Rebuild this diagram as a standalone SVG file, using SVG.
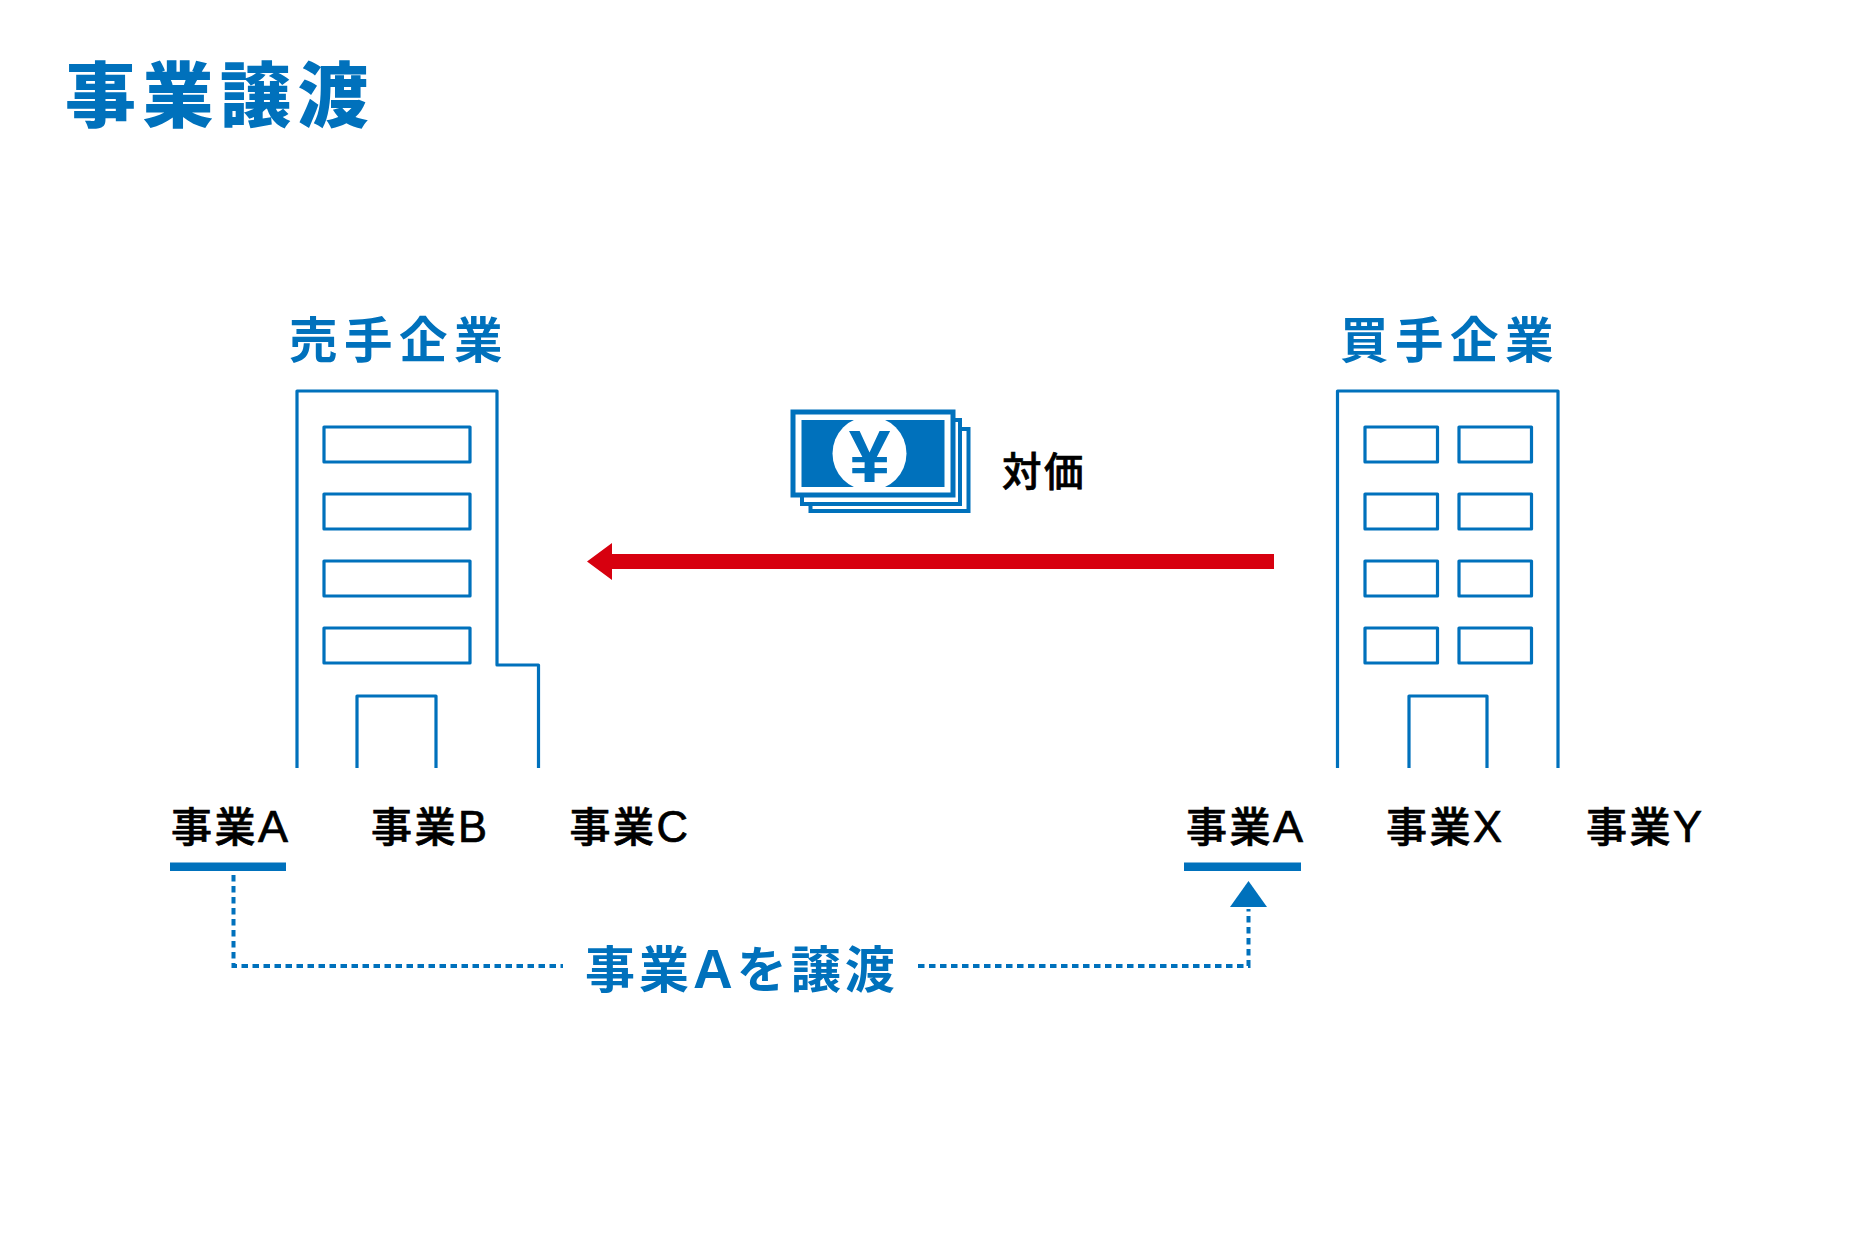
<svg xmlns="http://www.w3.org/2000/svg" width="1876" height="1251" viewBox="0 0 1876 1251">
<style>
text{font-family:"Liberation Sans","Noto Sans CJK JP",sans-serif}
.b{fill:#0071bc;font-weight:700}
.k{fill:#000;stroke:#000;stroke-width:.7px;font-size:41px;font-weight:500;letter-spacing:2.5px}
.l{font-size:45px;letter-spacing:0}
.m{font-size:43.500px;letter-spacing:0}
.h{font-size:48.500px;letter-spacing:6.500px}
.o{fill:none;stroke:#0071bc;stroke-width:3.2;stroke-linejoin:round}
.d{fill:none;stroke:#0071bc;stroke-width:4;stroke-dasharray:6.500 4.500}
.f{fill:#0071bc}
</style>
<rect width="1876" height="1251" fill="#fff"/>
<text id="title" class="b" x="65" y="121" font-size="71" letter-spacing="6.500" style="font-weight:900">事業譲渡</text>
<g id="seller">
<text class="b h" x="289" y="358">売手企業</text>
<path class="o" d="M297 768V391H497V665H538.500V768"/>
<rect class="o" x="324" y="427" width="146" height="35"/>
<rect class="o" x="324" y="494" width="146" height="35"/>
<rect class="o" x="324" y="561" width="146" height="35"/>
<rect class="o" x="324" y="628" width="146" height="35"/>
<path class="o" d="M357 768V696H436V768"/>
</g>
<g id="buyer">
<text class="b h" x="1340" y="358">買手企業</text>
<path class="o" d="M1337.500 768V391H1558V768"/>
<rect class="o" x="1365" y="427" width="72.500" height="35"/>
<rect class="o" x="1459" y="427" width="72.500" height="35"/>
<rect class="o" x="1365" y="494" width="72.500" height="35"/>
<rect class="o" x="1459" y="494" width="72.500" height="35"/>
<rect class="o" x="1365" y="561" width="72.500" height="35"/>
<rect class="o" x="1459" y="561" width="72.500" height="35"/>
<rect class="o" x="1365" y="628" width="72.500" height="35"/>
<rect class="o" x="1459" y="628" width="72.500" height="35"/>
<path class="o" d="M1409 768V696H1487V768"/>
</g>
<g id="money">
<rect x="810.500" y="429" width="158" height="82" fill="#fff" stroke="#0071bc" stroke-width="4"/>
<rect x="802" y="420" width="158" height="84" fill="#fff" stroke="#0071bc" stroke-width="4"/>
<rect x="793" y="412" width="160" height="83" fill="#fff" stroke="#0071bc" stroke-width="5"/>
<rect class="f" x="801.500" y="420" width="143" height="67"/>
<circle cx="869.500" cy="453.500" r="37" fill="#fff"/>
<text class="b" x="869.500" y="481.500" font-size="75" text-anchor="middle">¥</text>
<text class="k" x="1002" y="486" style="font-size:39.500px">対価</text>
</g>
<g id="labels">
<text class="k" x="171" y="842">事業<tspan class="l">A</tspan></text>
<text class="k" x="371" y="842">事業<tspan class="m">B</tspan></text>
<text class="k" x="569.500" y="842">事業<tspan class="m">C</tspan></text>
<text class="k" x="1186" y="842">事業<tspan class="l">A</tspan></text>
<text class="k" x="1386" y="842">事業<tspan class="m">X</tspan></text>
<text class="k" x="1586" y="842">事業<tspan class="m">Y</tspan></text>
<text class="b" x="585" y="988" font-size="50" letter-spacing="4">事業<tspan font-size="55">A</tspan>を譲渡</text>
</g>
<g id="connectors">
<path d="M1274 554V569H612V580L587 561.500L612 543V554Z" fill="#d7000f"/>
<rect class="f" x="170" y="862.500" width="116" height="8.500"/>
<rect class="f" x="1184" y="862.500" width="117" height="8.500"/>
<path class="d" d="M233.500 875V966H563"/>
<path class="d" d="M918 966H1248.500V909"/>
<path class="f" d="M1248.500 881L1267 907H1230Z"/>
</g>
</svg>
